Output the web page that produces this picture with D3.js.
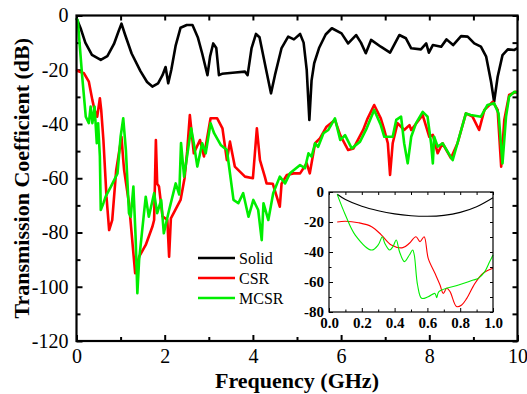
<!DOCTYPE html>
<html>
<head>
<meta charset="utf-8">
<script src="https://cdn.jsdelivr.net/npm/d3@7"></script>
<style>
  body { margin: 0; background: #fff; }
  svg text { font-family: 'Liberation Serif', 'Times New Roman', serif !important; }
</style>
</head>
<body>
<script>
// main plot data (frequency in GHz, transmission in dB)
const solidFreq = [0, 0.1, 0.2, 0.35, 0.55, 0.7, 0.85, 0.95, 1.02, 1.1, 1.25, 1.45, 1.6, 1.72, 1.85, 1.95, 2.02, 2.08, 2.15, 2.25, 2.36, 2.5, 2.63, 2.75, 2.85, 2.97, 3.03, 3.1, 3.17, 3.23, 3.3, 3.6, 3.82, 3.88, 3.97, 4.07, 4.15, 4.3, 4.41, 4.5, 4.65, 4.8, 4.93, 5.07, 5.15, 5.22, 5.28, 5.33, 5.39, 5.5, 5.65, 5.79, 6.01, 6.16, 6.34, 6.45, 6.56, 6.68, 6.9, 7.11, 7.32, 7.47, 7.59, 7.81, 7.93, 7.99, 8.08, 8.27, 8.39, 8.54, 8.72, 8.87, 9.02, 9.17, 9.29, 9.4, 9.47, 9.55, 9.66, 9.78, 9.93, 10];
const solidDb = [-1, -5, -10, -14.5, -16.4, -15, -10.5, -6, -3, -7, -14, -20.5, -24.5, -26.2, -25, -22, -19, -25, -20, -11, -4.5, -3.5, -3.5, -8, -14, -22, -15, -10.3, -12, -22, -21.5, -21, -20.7, -22, -12, -6.8, -8, -20, -28.7, -22, -12, -7.8, -8.8, -6.8, -10, -20, -38.5, -24, -17.6, -12, -7, -4.7, -6.6, -10.3, -7.2, -10, -13.9, -9, -11.5, -13.7, -7.2, -8.4, -12.1, -12.5, -10.3, -13.7, -10.9, -11.5, -8.8, -10.9, -7.6, -7.8, -10.3, -11.5, -15.2, -24.4, -31.8, -22.6, -14.6, -12.5, -12.7, -12];

const csrFreq = [0, 0.03, 0.17, 0.28, 0.36, 0.41, 0.47, 0.53, 0.56, 0.61, 0.68, 0.74, 0.81, 0.9, 0.95, 1.02, 1.06, 1.08, 1.19, 1.33, 1.42, 1.57, 1.72, 1.76, 1.8, 1.83, 1.87, 1.95, 2.06, 2.1, 2.14, 2.36, 2.45, 2.51, 2.57, 2.66, 2.8, 2.89, 3.04, 3.19, 3.31, 3.41, 3.48, 3.59, 3.82, 4.0, 4.09, 4.16, 4.27, 4.31, 4.45, 4.61, 4.65, 4.77, 4.92, 5.07, 5.22, 5.29, 5.41, 5.52, 5.67, 5.86, 5.98, 6.16, 6.28, 6.5, 6.6, 6.75, 6.9, 6.98, 7.06, 7.11, 7.17, 7.28, 7.43, 7.55, 7.59, 7.85, 8.0, 8.08, 8.19, 8.3, 8.49, 8.64, 8.83, 8.98, 9.13, 9.25, 9.44, 9.55, 9.63, 9.7, 9.81, 9.97, 10];
const csrDb = [-20, -20.5, -21.3, -24.4, -31.2, -34.8, -37.3, -30.5, -34.8, -45.9, -66.8, -79.1, -75.4, -57, -52, -44.7, -53.3, -57, -69.2, -95, -88.9, -84.6, -77.9, -75.4, -45.9, -62, -63, -74, -75.4, -88.9, -74.8, -68, -60, -50, -36.7, -50.8, -45.9, -52, -37.9, -37.9, -41.6, -53.3, -46.5, -55.7, -59.4, -60, -41.6, -53.3, -59.4, -61.9, -62, -70.5, -62, -58.8, -58.2, -58.2, -54.5, -58.2, -47.1, -45.3, -41, -38.5, -44.1, -49.6, -49, -42.2, -38, -33, -37.9, -42.2, -47.1, -58.8, -47.1, -39.7, -42.2, -40.4, -42.2, -36.7, -44.7, -44, -50.8, -47.1, -52.6, -47.1, -36.1, -37.3, -42.2, -34.8, -31.8, -34.8, -55.7, -38.5, -29.3, -28.1, -28.5];

const mcsrFreq = [0, 0.03, 0.13, 0.21, 0.28, 0.32, 0.36, 0.41, 0.46, 0.49, 0.53, 0.55, 0.61, 0.66, 0.78, 0.93, 1.0, 1.06, 1.12, 1.19, 1.23, 1.29, 1.34, 1.38, 1.42, 1.49, 1.57, 1.64, 1.76, 1.83, 1.92, 1.98, 2.1, 2.25, 2.33, 2.37, 2.44, 2.55, 2.6, 2.66, 2.74, 2.85, 2.93, 3.04, 3.12, 3.27, 3.41, 3.56, 3.67, 3.78, 3.9, 4.01, 4.12, 4.2, 4.24, 4.35, 4.46, 4.61, 4.73, 4.84, 5.07, 5.18, 5.26, 5.33, 5.41, 5.48, 5.6, 5.71, 5.86, 5.98, 6.09, 6.24, 6.43, 6.58, 6.75, 6.9, 6.98, 7.17, 7.25, 7.36, 7.43, 7.51, 7.59, 7.7, 7.85, 7.96, 8.04, 8.08, 8.11, 8.19, 8.3, 8.53, 8.68, 8.83, 8.94, 9.17, 9.32, 9.47, 9.57, 9.66, 9.74, 9.81, 9.93, 10];
const mcsrDb = [-1, -2, -22.6, -37.3, -39.7, -33.6, -39.7, -33.6, -47.1, -39.7, -52, -71.7, -69.2, -66.8, -63.1, -58.2, -44.7, -37.9, -49.6, -72.9, -74.2, -63.1, -81.5, -102.4, -90.1, -79.1, -66.8, -74.2, -65.5, -72.9, -68, -80.3, -71.7, -61.9, -66, -47, -59.4, -47.1, -41.6, -47.1, -55.7, -47.1, -50.8, -39.7, -43.4, -47.7, -49.6, -68, -69.2, -65.5, -74.2, -68, -71.7, -82.8, -69.2, -75.4, -65.5, -59.4, -61.9, -58.2, -55.1, -56.3, -50.8, -52, -47.1, -48.4, -43.4, -42.2, -37.9, -45.9, -44.1, -49, -46.5, -41.6, -34.8, -40.4, -44.7, -44.7, -38.5, -37.3, -47.1, -54.5, -44.7, -39.7, -35.5, -37.3, -47.1, -54.5, -44.7, -48.4, -47.1, -53.3, -44.7, -36.1, -36.7, -37.3, -33, -32.4, -36.1, -54.5, -37.3, -29.9, -28.1, -28.5];

// inset data (0 - 1 GHz)
const insetSolidFreq = [0.05, 0.1, 0.2, 0.3, 0.4, 0.5, 0.6, 0.7, 0.8, 0.9, 1.0];
const insetSolidDb = [-1.5, -5, -9.5, -12.5, -14.6, -15.8, -16.2, -15.6, -13.6, -9.8, -3.8];

const insetCsrFreq = [0.05, 0.1, 0.18, 0.26, 0.32, 0.38, 0.45, 0.49, 0.53, 0.555, 0.58, 0.605, 0.646, 0.677, 0.697, 0.718, 0.738, 0.778, 0.809, 0.84, 0.89, 0.94, 1.0];
const insetCsrDb = [-20, -19.5, -20.5, -23.1, -28.7, -35.3, -37.1, -34.2, -29.8, -33.1, -29.8, -44.2, -54.2, -62, -67.6, -64.2, -66.4, -76.4, -75.3, -70.9, -60.9, -54.2, -50.9];

const insetMcsrFreq = [0.05, 0.1, 0.16, 0.26, 0.3, 0.325, 0.34, 0.37, 0.39, 0.41, 0.43, 0.46, 0.49, 0.51, 0.52, 0.54, 0.565, 0.605, 0.646, 0.657, 0.67, 0.79, 0.85, 0.88, 0.91, 0.95, 0.98, 1.0];
const insetMcsrDb = [-1.6, -15.3, -28.7, -38.7, -35.3, -29.8, -34.2, -38.7, -36.4, -32, -39.8, -46.4, -42, -38.7, -42, -62, -70.9, -69.8, -67.6, -70.4, -66.4, -62, -59.8, -58.7, -57.6, -53.1, -46.4, -42];

const xTicks = [0, 2, 4, 6, 8, 10];
const yTicks = [-120, -100, -80, -60, -40, -20, 0];
const insetXTicks = [0, 0.2, 0.4, 0.6, 0.8, 1.0];
const insetYTicks = [-80, -60, -40, -20, 0];

const legendNames = ['Solid', 'CSR', 'MCSR'];
const colors = ['#000000', '#ff0000', '#00ee00'];

const FONT = "'Liberation Serif', 'Times New Roman', serif";
const W = 527, H = 394;
const margin = { top: 15.5, left: 76.5 };
const width = 441, height = 325.5;

const svg = d3.select('body').append('svg')
  .attr('width', W)
  .attr('height', H)
  .attr('font-family', FONT);

const g = svg.append('g')
  .attr('transform', `translate(${margin.left},${margin.top})`);

const x = d3.scaleLinear().domain([0, 10]).range([0, width]);
const y = d3.scaleLinear().domain([-120, 0]).range([height, 0]);

const fmt = (d) => String(d);

function styleAxis(sel, size) {
  sel.attr('font-family', FONT);
  sel.select('.domain').remove();
  sel.selectAll('line').attr('stroke', '#000').attr('stroke-width', 2);
  sel.selectAll('text').attr('fill', '#000')
    .style('font-family', FONT)
    .style('font-size', size);
}

// major/minor ticks on all four sides, pointing inward
g.append('g').attr('transform', `translate(0,${height})`)
  .call(d3.axisBottom(x).tickValues(xTicks).tickSize(-6).tickPadding(8).tickFormat(fmt))
  .call(styleAxis, '20px');
g.append('g').attr('transform', `translate(0,${height})`)
  .call(d3.axisBottom(x).tickValues([1, 3, 5, 7, 9]).tickSize(-4).tickFormat(''))
  .call(styleAxis, '20px');
g.append('g')
  .call(d3.axisTop(x).tickValues(d3.range(0, 11)).tickSize(-5).tickFormat(''))
  .call(styleAxis, '20px');

g.append('g')
  .call(d3.axisLeft(y).tickValues(yTicks).tickSize(-6).tickPadding(8).tickFormat(fmt))
  .call(styleAxis, '20px');
g.append('g')
  .call(d3.axisLeft(y).tickValues([-110, -90, -70, -50, -30, -10]).tickSize(-4).tickFormat(''))
  .call(styleAxis, '20px');
g.append('g').attr('transform', `translate(${width},0)`)
  .call(d3.axisRight(y).tickValues(d3.range(-120, 1, 10)).tickSize(-5).tickFormat(''))
  .call(styleAxis, '20px');

// curves
const line = d3.line()
  .x((d) => x(d[0]))
  .y((d) => y(d[1]));

const series = [
  d3.zip(solidFreq, solidDb),
  d3.zip(csrFreq, csrDb),
  d3.zip(mcsrFreq, mcsrDb)
];

series.forEach((s, i) => {
  g.append('path')
    .datum(s)
    .attr('fill', 'none')
    .attr('stroke', colors[i])
    .attr('stroke-width', 2.6)
    .attr('stroke-linejoin', 'round')
    .attr('d', line);
});

g.append('rect')
  .attr('width', width)
  .attr('height', height)
  .attr('fill', 'none')
  .attr('stroke', '#000')
  .attr('stroke-width', 2.2);

// legend
const legend = svg.append('g');
legendNames.forEach((name, i) => {
  const ly = 258 + i * 20;
  legend.append('line')
    .attr('x1', 198).attr('x2', 235)
    .attr('y1', ly).attr('y2', ly)
    .attr('stroke', colors[i])
    .attr('stroke-width', 2.6);
  legend.append('text')
    .attr('x', 239).attr('y', ly + 5.5)
    .style('font-size', '16px')
    .text(name);
});

// axis titles
svg.append('text')
  .attr('x', margin.left + width / 2).attr('y', 388)
  .attr('text-anchor', 'middle')
  .style('font-size', '22px')
  .style('font-weight', 'bold')
  .text('Frequency (GHz)');

svg.append('text')
  .attr('transform', `translate(29,${margin.top + height / 2}) rotate(-90)`)
  .attr('text-anchor', 'middle')
  .style('font-size', '22px')
  .style('font-weight', 'bold')
  .text('Transmission Coefficient (dB)');

// inset
const inset = svg.append('g').attr('transform', 'translate(329,192)');
const iw = 164, ih = 120;
const xi = d3.scaleLinear().domain([0, 1]).range([0, iw]);
const yi = d3.scaleLinear().domain([-80, 0]).range([ih, 0]);

inset.append('rect')
  .attr('x', -1).attr('y', -1)
  .attr('width', iw + 2).attr('height', ih + 2)
  .attr('fill', '#fff');

function styleInset(sel) {
  sel.attr('font-family', FONT);
  sel.select('.domain').remove();
  sel.selectAll('line').attr('stroke', '#000').attr('stroke-width', 1);
  sel.selectAll('text').attr('fill', '#000')
    .style('font-family', FONT)
    .style('font-size', '15px').style('font-weight', 'bold');
}

inset.append('g').attr('transform', `translate(0,${ih})`)
  .call(d3.axisBottom(xi).tickValues(insetXTicks).tickSize(-4).tickPadding(5).tickFormat(d3.format('.1f')))
  .call(styleInset);
inset.append('g').attr('transform', `translate(0,${ih})`)
  .call(d3.axisBottom(xi).tickValues([0.1, 0.3, 0.5, 0.7, 0.9]).tickSize(-2.5).tickFormat(''))
  .call(styleInset);
inset.append('g')
  .call(d3.axisTop(xi).tickValues(d3.range(0, 1.01, 0.1)).tickSize(-3).tickFormat(''))
  .call(styleInset);
inset.append('g')
  .call(d3.axisLeft(yi).tickValues(insetYTicks).tickSize(-4).tickPadding(5).tickFormat(fmt))
  .call(styleInset);
inset.append('g')
  .call(d3.axisLeft(yi).tickValues([-70, -50, -30, -10]).tickSize(-2.5).tickFormat(''))
  .call(styleInset);
inset.append('g').attr('transform', `translate(${iw},0)`)
  .call(d3.axisRight(yi).tickValues(d3.range(-80, 1, 10)).tickSize(-3).tickFormat(''))
  .call(styleInset);

const insetLine = d3.line()
  .curve(d3.curveCatmullRom)
  .x((d) => xi(d[0]))
  .y((d) => yi(d[1]));

const insetSeries = [
  d3.zip(insetSolidFreq, insetSolidDb),
  d3.zip(insetCsrFreq, insetCsrDb),
  d3.zip(insetMcsrFreq, insetMcsrDb)
];

insetSeries.forEach((s, i) => {
  inset.append('path')
    .datum(s)
    .attr('fill', 'none')
    .attr('stroke', colors[i])
    .attr('stroke-width', 1.1)
    .attr('d', insetLine);
});

inset.append('rect')
  .attr('width', iw)
  .attr('height', ih)
  .attr('fill', 'none')
  .attr('stroke', '#000')
  .attr('stroke-width', 1.2);
</script>
</body>
</html>
